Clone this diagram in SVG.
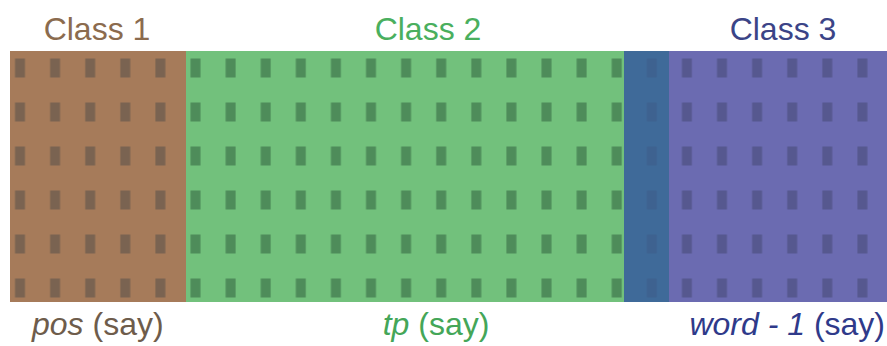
<svg xmlns="http://www.w3.org/2000/svg" width="887" height="346" viewBox="0 0 887 346">
<style>
text{font-family:"Liberation Sans",Arial,sans-serif;font-size:32px}
.it{font-style:italic}
</style>
<defs>
<pattern id="pb" patternUnits="userSpaceOnUse" x="0" y="0" width="35.1" height="44"><rect x="15" y="14.5" width="10" height="19" fill="#7a6351"/></pattern>
<pattern id="pg" patternUnits="userSpaceOnUse" x="0" y="0" width="35.1" height="44"><rect x="15" y="14.5" width="10" height="19" fill="#4e8c5a"/></pattern>
<pattern id="po" patternUnits="userSpaceOnUse" x="0" y="0" width="35.1" height="44"><rect x="15" y="14.5" width="10" height="19" fill="#3e6290"/></pattern>
<pattern id="pp" patternUnits="userSpaceOnUse" x="0" y="0" width="35.1" height="44"><rect x="15" y="14.5" width="10" height="19" fill="#56588f"/></pattern>
</defs>
<g id="class1">
<rect x="10" y="51" width="176" height="251" fill="#a67b5a"/>
<rect x="10" y="51" width="176" height="251" fill="url(#pb)"/>
<text x="97" y="40" text-anchor="middle" fill="#8b6b4e">Class 1</text>
<text x="32" y="335" fill="#6e5c4b"><tspan class="it">pos</tspan> (say)</text>
</g>
<g id="class2">
<rect x="186" y="51" width="438" height="251" fill="#72c17c"/>
<rect x="186" y="51" width="438" height="251" fill="url(#pg)"/>
<text x="428" y="40" text-anchor="middle" fill="#4aaf5e">Class 2</text>
<text x="436" y="335" text-anchor="middle" fill="#44a658"><tspan class="it">tp</tspan> (say)</text>
</g>
<g id="overlap">
<rect x="624" y="51" width="45" height="251" fill="#3f6a99"/>
<rect x="624" y="51" width="45" height="251" fill="url(#po)"/>
</g>
<g id="class3">
<rect x="669" y="51" width="218" height="251" fill="#6b6bb1"/>
<rect x="669" y="51" width="218" height="251" fill="url(#pp)"/>
<text x="783" y="40" text-anchor="middle" fill="#3b4487">Class 3</text>
<text x="885" y="335" text-anchor="end" fill="#2f3a8a"><tspan class="it">word - 1</tspan> (say)</text>
</g>
<g id="connectors"/>
</svg>
